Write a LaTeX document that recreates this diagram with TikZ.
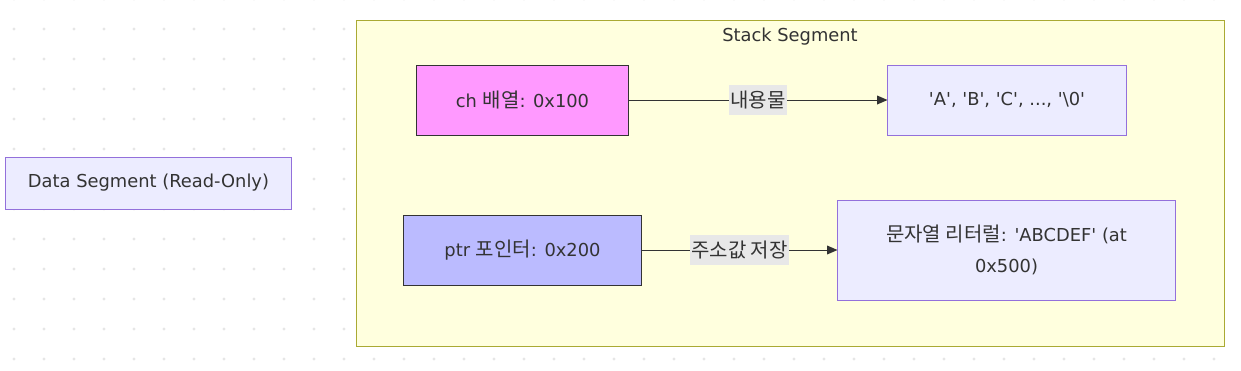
\documentclass[tikz,border=0pt]{standalone}
\usepackage{fontspec}
\usepackage{tikz}
\usetikzlibrary{arrows.meta}
\setmainfont{DejaVu Sans}
\newfontfamily\kr[Scale=1.12]{Noto Sans CJK KR}
\newcommand{\sq}{\textquotesingle}
\definecolor{linegray}{HTML}{333333}
\definecolor{nodeedge}{HTML}{9370DB}
\definecolor{nodefill}{HTML}{ECECFF}
\definecolor{chpink}{HTML}{FF99FF}
\definecolor{ptrblue}{HTML}{BBBBFF}
\definecolor{stackfill}{HTML}{FFFFDE}
\definecolor{stackedge}{HTML}{AAAA33}
\definecolor{labelbg}{HTML}{E8E8E8}
\definecolor{dotgray}{HTML}{E6E6E6}

\begin{document}
\begin{tikzpicture}[
    x=0.025cm, y=-0.025cm,
    font=\fontsize{12.7pt}{22pt}\selectfont,
    box/.style={rectangle, draw=nodeedge, fill=nodefill, line width=0.7pt,
                minimum height=1.75cm, align=center, text=linegray},
    varbox/.style={box, draw=linegray},
    edgelabel/.style={fill=labelbg, inner xsep=1pt, inner ysep=4.5pt, text=linegray},
    arrow/.style={-{Triangle[length=2.6mm,width=2.2mm]}, line width=0.7pt, color=linegray}
]
    \useasboundingbox (0,0) rectangle (1241,370);
    % background dots
    \foreach \x in {14,44,...,1240}
        \foreach \y in {-1,29,...,370}
            \fill[dotgray] (\x,\y) circle (1.1pt);

    % stack segment
    \draw[fill=stackfill, draw=stackedge, line width=0.7pt] (356,20) rectangle (1224,346);
    \node[text=linegray] (stack) at (790,37) {Stack Segment};

    \node[varbox, fill=chpink, minimum width=5.275cm] (ch) at (522.5,100) {ch {\kr 배열}: 0x100};
    \node[box, minimum width=5.95cm] (content) at (1007,100) {\sq A\sq, \sq B\sq, \sq C\sq, ..., \sq\textbackslash 0\sq};
    \node[varbox, fill=ptrblue, minimum width=5.925cm] (ptr) at (522.5,250) {ptr {\kr 포인터}: 0x200};
    \node[box, minimum width=8.425cm, minimum height=2.5cm] (literal) at (1006.5,250)
        {{\kr 문자열 리터럴}: \sq ABCDEF\sq{} (at\\0x500)};

    \node[box, minimum width=7.125cm, minimum height=1.3cm] (data) at (148.5,183) {Data Segment (Read-Only)};

    \draw[arrow] (ch) -- node[edgelabel] {\kr 내용물} (content);
    \draw[arrow] (ptr) -- node[edgelabel] {\kr 주소값 저장} (literal);
\end{tikzpicture}
\end{document}
